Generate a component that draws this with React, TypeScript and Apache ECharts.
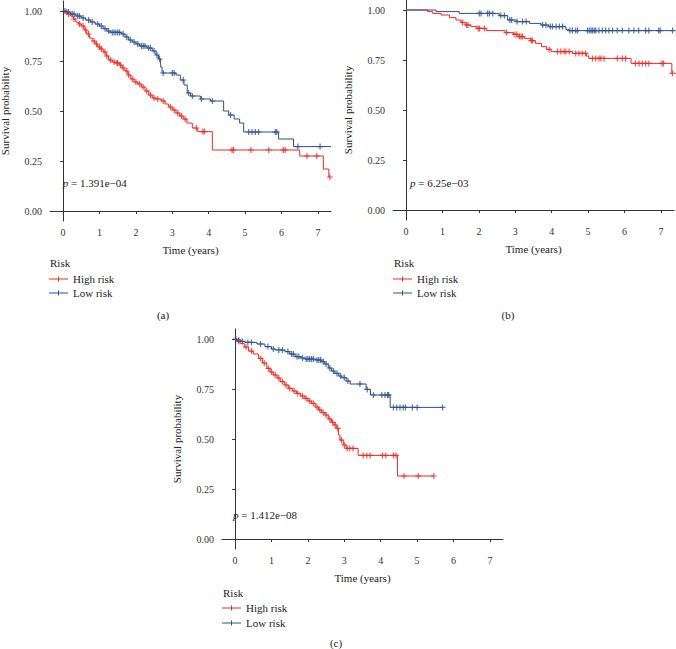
import React, { useEffect, useRef } from "react";
import * as echarts from "echarts";

const FONT = "'Liberation Serif', 'Times New Roman', serif";
const RED = "#EE2A24";
const BLUE = "#2B5191";

const xTicks = [0, 1, 2, 3, 4, 5, 6, 7];
const yTicks = [0, 0.25, 0.5, 0.75, 1];
const seriesNames = ["High risk", "Low risk"];
const panelLabels = ["(a)", "(b)", "(c)"];
const pValues = ["1.391e\u221204", "6.25e\u221203", "1.412e\u221208"];

// Panel (a)
const aHighTimes = [0.05, 0.12, 0.2, 0.28, 0.35, 0.42, 0.5, 0.58, 0.65, 0.72, 0.8, 0.88, 0.95, 1.02, 1.1, 1.18, 1.25, 1.35, 1.45, 1.55, 1.62, 1.7, 1.78, 1.86, 1.95, 2.05, 2.15, 2.25, 2.35, 2.45, 2.55, 2.7, 2.8, 2.9, 3.0, 3.1, 3.2, 3.3, 3.4, 3.55, 3.7, 4.1, 6.5, 7.15, 7.3];
const aHighSurv = [0.995, 0.985, 0.975, 0.96, 0.945, 0.935, 0.925, 0.905, 0.885, 0.865, 0.85, 0.835, 0.82, 0.81, 0.795, 0.775, 0.755, 0.745, 0.74, 0.73, 0.715, 0.7, 0.68, 0.66, 0.645, 0.635, 0.62, 0.6, 0.58, 0.565, 0.56, 0.55, 0.535, 0.52, 0.505, 0.49, 0.475, 0.46, 0.44, 0.415, 0.397, 0.305, 0.275, 0.21, 0.17];
const aHighCensor = [0.1, 0.15, 0.3, 0.45, 0.55, 0.62, 0.7, 0.85, 0.92, 1.0, 1.05, 1.15, 1.2, 1.3, 1.4, 1.48, 1.5, 1.58, 1.65, 1.75, 1.8, 1.9, 2.0, 2.1, 2.2, 2.3, 2.4, 2.5, 2.6, 2.75, 2.95, 3.05, 3.15, 3.25, 3.35, 3.66, 3.84, 3.88, 4.64, 4.68, 5.16, 5.65, 6.05, 6.1, 6.7, 6.97, 7.33];
const aHighEnd = 7.33;
const aLowTimes = [0.08, 0.2, 0.35, 0.5, 0.62, 0.75, 0.88, 1.0, 1.1, 1.2, 1.3, 1.6, 1.7, 1.8, 1.9, 2.0, 2.1, 2.3, 2.45, 2.55, 2.62, 2.68, 2.72, 3.1, 3.22, 3.32, 3.41, 3.5, 3.77, 4.05, 4.41, 4.55, 4.7, 4.85, 4.96, 5.92, 6.33];
const aLowSurv = [0.995, 0.985, 0.975, 0.965, 0.955, 0.945, 0.935, 0.925, 0.912, 0.9, 0.893, 0.885, 0.87, 0.855, 0.845, 0.835, 0.825, 0.815, 0.8, 0.78, 0.76, 0.72, 0.69, 0.68, 0.655, 0.63, 0.59, 0.575, 0.56, 0.55, 0.5, 0.48, 0.46, 0.44, 0.395, 0.36, 0.322];
const aLowCensor = [0.05, 0.15, 0.25, 0.3, 0.4, 0.45, 0.55, 0.7, 0.8, 0.95, 1.05, 1.15, 1.25, 1.35, 1.4, 1.45, 1.5, 1.55, 1.65, 1.75, 1.85, 1.95, 2.05, 2.15, 2.2, 2.25, 2.35, 2.4, 2.5, 2.58, 2.65, 2.75, 3.0, 3.05, 3.3, 3.45, 3.55, 3.8, 4.1, 4.6, 5.1, 5.19, 5.28, 5.37, 5.83, 5.87, 6.45, 7.06];
const aLowEnd = 7.36;

// Panel (b)
const bHighTimes = [0.59, 0.73, 0.96, 1.19, 1.37, 1.51, 1.62, 1.78, 1.95, 2.2, 2.72, 2.95, 3.1, 3.25, 3.42, 3.55, 3.72, 3.86, 3.98, 4.57, 4.95, 5.02, 6.18, 7.3];
const bHighSurv = [0.992, 0.983, 0.975, 0.962, 0.95, 0.938, 0.925, 0.917, 0.908, 0.897, 0.887, 0.878, 0.867, 0.858, 0.847, 0.833, 0.817, 0.803, 0.792, 0.783, 0.77, 0.758, 0.733, 0.683];
const bHighCensor = [1.55, 1.66, 1.7, 1.98, 2.02, 2.15, 2.76, 2.99, 3.04, 3.12, 3.16, 3.2, 3.44, 3.47, 3.93, 4.16, 4.25, 4.34, 4.39, 4.48, 4.66, 4.75, 4.84, 4.93, 5.12, 5.21, 5.3, 5.35, 5.44, 5.8, 5.94, 6.03, 6.3, 6.4, 6.49, 6.58, 6.67, 7.03, 7.07, 7.32];
const bHighEnd = 7.32;
const bLowTimes = [0.82, 1.46, 2.56, 2.79, 3.02, 3.39, 3.71, 3.92, 4.39, 4.48];
const bLowSurv = [0.992, 0.983, 0.972, 0.95, 0.942, 0.933, 0.925, 0.917, 0.903, 0.897];
const bLowCensor = [2.01, 2.06, 2.24, 2.29, 2.38, 2.6, 2.7, 2.85, 2.9, 3.05, 3.2, 3.3, 3.75, 3.84, 3.96, 4.02, 4.12, 4.21, 4.3, 4.5, 4.57, 4.66, 4.71, 4.98, 5.03, 5.08, 5.12, 5.17, 5.21, 5.3, 5.39, 5.48, 5.57, 5.67, 5.8, 5.94, 6.12, 6.26, 6.39, 6.58, 6.67, 6.94, 6.98, 7.32];
const bLowEnd = 7.36;

// Panel (c)
const cHighTimes = [0.05, 0.14, 0.25, 0.37, 0.5, 0.64, 0.75, 0.87, 0.96, 1.05, 1.15, 1.24, 1.35, 1.46, 1.58, 1.69, 1.8, 1.92, 2.0, 2.1, 2.2, 2.29, 2.38, 2.47, 2.56, 2.65, 2.72, 2.79, 2.84, 2.88, 2.97, 3.05, 3.38, 4.46];
const cHighSurv = [0.988, 0.978, 0.96, 0.94, 0.925, 0.903, 0.88, 0.853, 0.835, 0.82, 0.805, 0.787, 0.77, 0.753, 0.74, 0.728, 0.715, 0.703, 0.69, 0.678, 0.66, 0.645, 0.632, 0.62, 0.6, 0.583, 0.57, 0.553, 0.52, 0.495, 0.47, 0.453, 0.418, 0.315];
const cHighCensor = [0.1, 0.3, 0.45, 0.7, 0.8, 0.92, 1.0, 1.1, 1.2, 1.3, 1.4, 1.5, 1.62, 1.72, 1.85, 1.95, 2.05, 2.15, 2.25, 2.33, 2.42, 2.5, 2.6, 2.68, 2.75, 2.82, 2.92, 3.0, 3.08, 3.15, 3.24, 3.52, 3.62, 3.71, 4.05, 4.14, 4.35, 4.42, 4.64, 5.03, 5.46];
const cHighEnd = 5.46;
const cLowTimes = [0.05, 0.15, 0.27, 0.6, 0.82, 1.0, 1.1, 1.37, 1.5, 1.65, 1.8, 1.92, 2.2, 2.38, 2.45, 2.56, 2.65, 2.74, 2.85, 2.93, 3.05, 3.16, 3.6, 3.72, 4.26];
const cLowSurv = [0.995, 0.988, 0.983, 0.975, 0.962, 0.95, 0.945, 0.937, 0.925, 0.912, 0.905, 0.9, 0.895, 0.887, 0.875, 0.855, 0.84, 0.828, 0.815, 0.807, 0.79, 0.775, 0.748, 0.72, 0.658];
const cLowCensor = [0.02, 0.1, 0.2, 0.35, 0.45, 0.7, 0.9, 1.05, 1.2, 1.3, 1.45, 1.55, 1.6, 1.7, 1.75, 1.85, 1.95, 2.0, 2.05, 2.1, 2.15, 2.25, 2.3, 2.35, 2.42, 2.5, 2.6, 2.7, 2.8, 2.9, 3.0, 3.1, 3.43, 3.63, 3.8, 4.03, 4.12, 4.19, 4.22, 4.35, 4.44, 4.53, 4.62, 4.68, 4.87, 5.0, 5.7];
const cLowEnd = 5.7;

function survAt(times: number[], surv: number[], t: number) {
  let s = 1;
  for (let i = 0; i < times.length; i++) if (times[i] <= t) s = surv[i];
  return s;
}
function kmLine(times: number[], surv: number[], end: number) {
  const d: number[][] = [[0, 1]];
  times.forEach((t, i) => d.push([t, surv[i]]));
  d.push([end, surv[surv.length - 1]]);
  return d;
}
function kmMarks(times: number[], surv: number[], cens: number[]) {
  return cens.map((c) => [c, survAt(times, surv, c)]);
}

const PLUS = "path://M4,0H6V4H10V6H6V10H4V6H0V4H4Z";

const panels = [
  { grid: { left: 50, top: 1, width: 281, height: 220 }, high: [aHighTimes, aHighSurv, aHighCensor, aHighEnd], low: [aLowTimes, aLowSurv, aLowCensor, aLowEnd] },
  { grid: { left: 393, top: 0, width: 281, height: 220 }, high: [bHighTimes, bHighSurv, bHighCensor, bHighEnd], low: [bLowTimes, bLowSurv, bLowCensor, bLowEnd] },
  { grid: { left: 222, top: 329, width: 281, height: 220 }, high: [cHighTimes, cHighSurv, cHighCensor, cHighEnd], low: [cLowTimes, cLowSurv, cLowCensor, cLowEnd] },
];

// decoration placement (pixels)
const pTextPos = [[62.7, 183], [410, 183], [233, 515]];
const legendPos = [[50, 263, 279, 293], [394, 263, 279, 293], [223, 593, 608, 623]];
const labelPos = [[163, 315], [508, 315], [336, 643]];

export default function App() {
  const ref = useRef<HTMLDivElement>(null);
  useEffect(() => {
    if (!ref.current) return;
    const chart = echarts.init(ref.current, null, { renderer: "svg" });
    const grids: any[] = [];
    const xAxes: any[] = [];
    const yAxes: any[] = [];
    const series: any[] = [];
    const graphic: any[] = [];
    const axisLine = { show: true, lineStyle: { color: "#333", width: 1 } };
    const axisTickBase = { show: true, length: 3, lineStyle: { color: "#333", width: 1 } };
    panels.forEach((p, i) => {
      grids.push({ ...p.grid, outerBoundsMode: "none", containLabel: false });
      xAxes.push({
        type: "value", gridIndex: i, min: -0.36, max: 7.36,
        name: "Time (years)", nameLocation: "middle", nameGap: 23,
        nameTextStyle: { fontFamily: FONT, fontSize: 11, color: "#222", fontWeight: "normal" },
        axisLine, splitLine: { show: false },
        axisTick: { ...axisTickBase, customValues: xTicks },
        axisLabel: { customValues: xTicks, fontFamily: FONT, fontSize: 10, color: "#333", margin: 6 },
      });
      yAxes.push({
        type: "value", gridIndex: i, min: -0.05, max: 1.05,
        name: "Survival probability", nameLocation: "middle", nameGap: 40,
        nameTextStyle: { fontFamily: FONT, fontSize: 11, color: "#222", fontWeight: "normal" },
        axisLine, splitLine: { show: false },
        axisTick: { ...axisTickBase, customValues: yTicks },
        axisLabel: { customValues: yTicks, fontFamily: FONT, fontSize: 10, color: "#333", margin: 8, formatter: (v: number) => v.toFixed(2) },
      });
      const groups = [[p.high, RED, seriesNames[0]], [p.low, BLUE, seriesNames[1]]] as any[];
      groups.forEach(([g, col, name]) => {
        const [times, surv, cens, end] = g;
        series.push({
          type: "line", name, xAxisIndex: i, yAxisIndex: i, step: "end", showSymbol: false,
          data: kmLine(times, surv, end), lineStyle: { color: col, width: 1 }, itemStyle: { color: col },
          silent: true, clip: false,
        });
        series.push({
          type: "scatter", name, xAxisIndex: i, yAxisIndex: i, symbol: PLUS, symbolSize: 6,
          data: kmMarks(times, surv, cens), itemStyle: { color: col }, silent: true, clip: false,
        });
      });
      const [px, py] = pTextPos[i];
      graphic.push({
        type: "text", x: px, y: py,
        style: {
          text: "{i|p} = " + pValues[i], fontFamily: FONT, fontSize: 11, fill: "#222",
          verticalAlign: "middle", align: "left",
          rich: { i: { fontStyle: "italic", fontFamily: FONT, fontSize: 11, fill: "#222" } },
        },
      });
      const [lx, ry, hy, ly] = legendPos[i];
      graphic.push({ type: "text", x: lx, y: ry, style: { text: "Risk", fontFamily: FONT, fontSize: 11, fill: "#222", verticalAlign: "middle" } });
      [[hy, RED, seriesNames[0]], [ly, BLUE, seriesNames[1]]].forEach(([yy, col, nm]: any) => {
        graphic.push({ type: "line", shape: { x1: lx - 1, y1: yy, x2: lx + 18, y2: yy }, style: { stroke: col, lineWidth: 1 } });
        graphic.push({ type: "line", shape: { x1: lx + 8.5, y1: yy - 2.5, x2: lx + 8.5, y2: yy + 2.5 }, style: { stroke: col, lineWidth: 1 } });
        graphic.push({ type: "text", x: lx + 23, y: yy, style: { text: nm, fontFamily: FONT, fontSize: 11, fill: "#222", verticalAlign: "middle" } });
      });
      const [cx, cy] = labelPos[i];
      graphic.push({ type: "text", x: cx, y: cy, style: { text: panelLabels[i], fontFamily: FONT, fontSize: 11, fill: "#222", align: "center", verticalAlign: "middle" } });
    });
    chart.setOption({
      animation: false,
      backgroundColor: "#fff",
      grid: grids,
      xAxis: xAxes,
      yAxis: yAxes,
      series,
      graphic,
    });
    return () => chart.dispose();
  }, []);
  return <div ref={ref} style={{ position: "absolute", left: 0, top: 0, width: 676, height: 649 }} />;
}
